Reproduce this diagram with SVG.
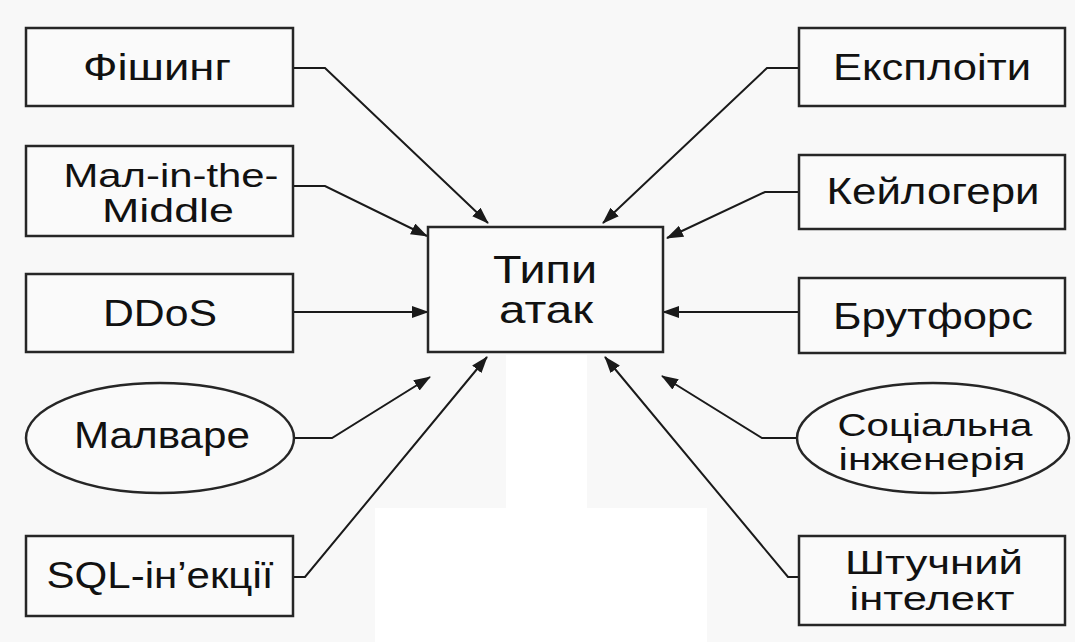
<svg xmlns="http://www.w3.org/2000/svg" width="1075" height="642" viewBox="0 0 1075 642">
  <defs>
    <marker id="arr" markerUnits="userSpaceOnUse" markerWidth="17" markerHeight="12" refX="16" refY="6" orient="auto">
      <path d="M0,0 L17,6 L0,12 z" fill="#1a1a1a"/>
    </marker>
    <style>
      .box{fill:#fafafa;stroke:#262626;stroke-width:2.5}
      .lbl{font-family:"Liberation Sans",Arial,sans-serif;fill:#111111;text-anchor:middle}
      .s1{font-size:37px}
      .s2{font-size:34px}
      .s3{font-size:31px}
      .sc{font-size:39px}
      .con{fill:none;stroke:#1a1a1a;stroke-width:2;marker-end:url(#arr)}
    </style>
  </defs>
  <rect x="0" y="0" width="1075" height="642" fill="#f8f8f8"/>
  <rect x="506" y="355" width="81" height="160" fill="#ffffff"/>
  <rect x="375" y="508" width="332" height="134" fill="#ffffff"/>

  <g id="connectors">
    <polyline class="con" points="293,68 325,68 488,223"/>
    <polyline class="con" points="293,186 325,186 427,236"/>
    <polyline class="con" points="293,312 428,312"/>
    <polyline class="con" points="293,438 332,438 430,377"/>
    <polyline class="con" points="293,577 305,577 487,357"/>
    <polyline class="con" points="799,68 767,68 603,223"/>
    <polyline class="con" points="799,192 765,192 667,238"/>
    <polyline class="con" points="799,312 663,312"/>
    <polyline class="con" points="797,438 762,438 662,376"/>
    <polyline class="con" points="799,577 788,577 605,357"/>
  </g>

  <g id="center">
    <rect class="box" x="428" y="227" width="235" height="125"/>
    <text class="lbl sc" x="545" y="283" textLength="104" lengthAdjust="spacingAndGlyphs">Типи</text>
    <text class="lbl sc" x="546" y="323" textLength="94" lengthAdjust="spacingAndGlyphs">атак</text>
  </g>

  <g id="phishing">
    <rect class="box" x="26" y="28" width="267" height="78"/>
    <text class="lbl s1" x="157" y="80" textLength="148" lengthAdjust="spacingAndGlyphs">Фішинг</text>
  </g>
  <g id="mitm">
    <rect class="box" x="26" y="146" width="267" height="90"/>
    <text class="lbl s2" x="171" y="187" textLength="215" lengthAdjust="spacingAndGlyphs">Maл-in-the-</text>
    <text class="lbl s2" x="168" y="222" textLength="132" lengthAdjust="spacingAndGlyphs">Middle</text>
  </g>
  <g id="ddos">
    <rect class="box" x="26" y="274" width="267" height="78"/>
    <text class="lbl s1" x="160" y="326" textLength="114" lengthAdjust="spacingAndGlyphs">DDoS</text>
  </g>
  <g id="malware">
    <ellipse class="box" cx="160" cy="438" rx="134" ry="55"/>
    <text class="lbl s1" x="162" y="448" textLength="176" lengthAdjust="spacingAndGlyphs">Малваре</text>
  </g>
  <g id="sql">
    <rect class="box" x="26" y="536" width="267" height="80"/>
    <text class="lbl s1" x="160" y="588" textLength="227" lengthAdjust="spacingAndGlyphs">SQL-ін’екції</text>
  </g>

  <g id="exploits">
    <rect class="box" x="799" y="28" width="266" height="78"/>
    <text class="lbl s1" x="932" y="80" textLength="198" lengthAdjust="spacingAndGlyphs">Експлоіти</text>
  </g>
  <g id="keyloggers">
    <rect class="box" x="799" y="155" width="266" height="74"/>
    <text class="lbl s1" x="933" y="204" textLength="213" lengthAdjust="spacingAndGlyphs">Кейлогери</text>
  </g>
  <g id="bruteforce">
    <rect class="box" x="799" y="278" width="266" height="75"/>
    <text class="lbl s1" x="933" y="329" textLength="200" lengthAdjust="spacingAndGlyphs">Брутфорс</text>
  </g>
  <g id="social">
    <ellipse class="box" cx="933" cy="438" rx="136" ry="55"/>
    <text class="lbl s3" x="935" y="436" textLength="195" lengthAdjust="spacingAndGlyphs">Соціальна</text>
    <text class="lbl s3" x="932" y="470" textLength="187" lengthAdjust="spacingAndGlyphs">інженерія</text>
  </g>
  <g id="ai">
    <rect class="box" x="799" y="536" width="266" height="89"/>
    <text class="lbl s2" x="934" y="574" textLength="178" lengthAdjust="spacingAndGlyphs">Штучний</text>
    <text class="lbl s2" x="932" y="610" textLength="165" lengthAdjust="spacingAndGlyphs">інтелект</text>
  </g>
</svg>
